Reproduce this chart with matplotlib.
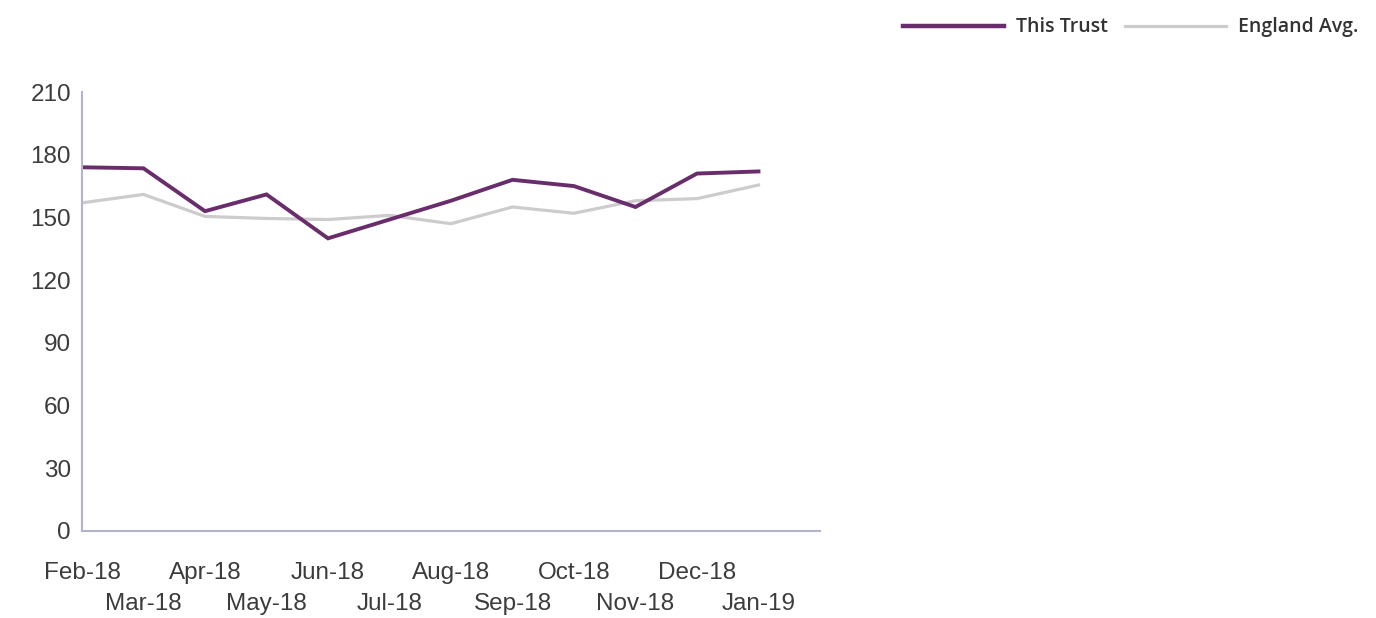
import matplotlib.pyplot as plt

months = ['Feb-18', 'Mar-18', 'Apr-18', 'May-18', 'Jun-18', 'Jul-18',
          'Aug-18', 'Sep-18', 'Oct-18', 'Nov-18', 'Dec-18', 'Jan-19']
trust = [174, 173.5, 153, 161, 140, 149, 158, 168, 165, 155, 171, 172]
england = [157, 161, 150.5, 149.5, 149, 151, 147, 155, 152, 158, 159, 165.5]
yticks = [0, 30, 60, 90, 120, 150, 180, 210]

fig = plt.figure(figsize=(13.76, 6.18), dpi=100)
ax = fig.add_axes([0.0596, 0.1408, 0.5363, 0.7103])

x = list(range(len(months)))
ax.plot(x, england, color='#cccccc', lw=2.3, solid_joinstyle='miter', label='England Avg.')
ax.plot(x, trust, color='#6a2d6c', lw=2.8, solid_joinstyle='miter', label='This Trust')

ax.set_xlim(0, 12)
ax.set_ylim(0, 210)
ax.set_yticks(yticks)

# alternate month labels sit on two rows
ax.set_xticks(x[::2])
ax.set_xticklabels(months[::2])
ax.set_xticks(x[1::2], minor=True)
ax.set_xticklabels(months[1::2], minor=True)

for s in ['top', 'right']:
    ax.spines[s].set_visible(False)
for s in ['left', 'bottom']:
    ax.spines[s].set_color('#b4b4d2')
    ax.spines[s].set_linewidth(1.5)

fs = 17.5
ax.tick_params(axis='y', length=0, pad=8, labelsize=fs, labelcolor='#3c3c3c')
ax.tick_params(axis='x', which='major', length=0, pad=22, labelsize=fs, labelcolor='#3c3c3c')
ax.tick_params(axis='x', which='minor', length=0, pad=45, labelsize=fs, labelcolor='#3c3c3c')
for t in ax.get_xticklabels(which='both') + ax.get_yticklabels():
    t.set_family('Liberation Sans')

h, l = ax.get_legend_handles_labels()
leg = fig.legend(h[::-1], l[::-1], loc='upper right', bbox_to_anchor=(1.0, 1.0),
                 ncol=2, frameon=False, handlelength=5.2, handletextpad=0.6,
                 columnspacing=0.9,
                 prop={'family': 'Open Sans', 'size': 14, 'weight': 'semibold'})
for t in leg.get_texts():
    t.set_color('#333333')
leg.get_lines()[0].set_linewidth(3.2)

fig.savefig('out.png', dpi=100)
